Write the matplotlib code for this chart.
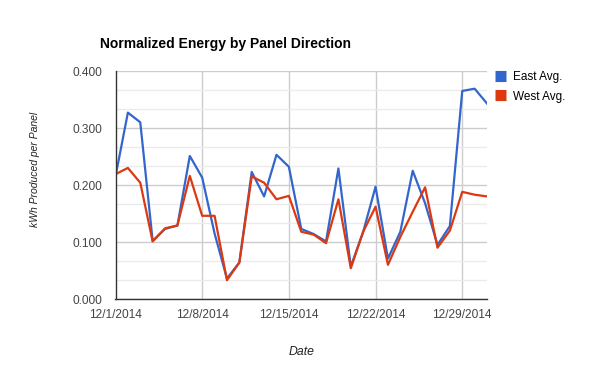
import numpy as np
import pandas as pd
import matplotlib
matplotlib.use("Agg")
import matplotlib.pyplot as plt
from matplotlib.ticker import MultipleLocator

plt.rcParams['font.family'] = ['Liberation Sans', 'DejaVu Sans']

dates = pd.date_range("2014-12-01", "2014-12-31", freq="D")
east = [0.215, 0.327, 0.310, 0.102, 0.123, 0.129, 0.251, 0.213, 0.115, 0.036,
        0.064, 0.223, 0.180, 0.253, 0.232, 0.123, 0.114, 0.101, 0.229, 0.057,
        0.118, 0.197, 0.071, 0.118, 0.225, 0.168, 0.095, 0.128, 0.365, 0.369,
        0.343]
west = [0.219, 0.230, 0.204, 0.101, 0.124, 0.129, 0.216, 0.146, 0.146, 0.033,
        0.064, 0.215, 0.204, 0.175, 0.181, 0.118, 0.113, 0.098, 0.175, 0.054,
        0.118, 0.162, 0.060, 0.109, 0.153, 0.196, 0.090, 0.120, 0.188, 0.183,
        0.180]
tick_dates = pd.to_datetime(["2014-12-01", "2014-12-08", "2014-12-15",
                             "2014-12-22", "2014-12-29"])
tick_labels = ["12/1/2014", "12/8/2014", "12/15/2014", "12/22/2014", "12/29/2014"]

fig = plt.figure(figsize=(6, 3.71), dpi=100)
ax = fig.add_axes([0.1925, 0.194, 0.6192, 0.6146])

# gridlines, google charts style
ax.yaxis.set_minor_locator(MultipleLocator(0.1 / 3))
ax.grid(which="major", axis="y", color="#cccccc", lw=1)
ax.grid(which="minor", axis="y", color="#ebebeb", lw=1)
ax.grid(which="major", axis="x", color="#cccccc", lw=1)
ax.set_axisbelow(True)

ax.plot(dates, east, color="#3366cc", lw=1.6, label="East Avg.")
ax.plot(dates, west, color="#dc3912", lw=1.6, label="West Avg.")

ax.set_xlim(dates[0], dates[-1])
ax.set_ylim(0, 0.4)
ax.set_yticks(np.arange(0, 0.41, 0.1))
ax.set_yticklabels(["%.3f" % v for v in np.arange(0, 0.41, 0.1)])
ax.set_xticks(tick_dates)
ax.set_xticklabels(tick_labels)
ax.tick_params(which="both", length=0, labelsize=8.6, labelcolor="#444444")
ax.tick_params(axis="x", pad=7)
ax.tick_params(axis="y", pad=9.5)

for s in ["top", "right"]:
    ax.spines[s].set_visible(False)
for s in ["left", "bottom"]:
    ax.spines[s].set_color("#333333")
    ax.spines[s].set_linewidth(1)

fig.text(302 / 600, 1 - 352 / 371, "Date", style="italic", fontsize=8.8,
         color="#222222", ha="center", va="center")
fig.text(35 / 600, 1 - 169 / 371, "kWh Produced per Panel", style="italic",
         fontsize=7.5, color="#222222", ha="center", va="center", rotation=90)

fig.text(100 / 600, 1 - 44 / 371, "Normalized Energy by Panel Direction",
         fontsize=10, fontweight="bold", va="center", ha="left")

leg = ax.legend(loc="upper left", bbox_to_anchor=(1.01, 1.02), frameon=False,
                fontsize=8.5, handlelength=0.9, handleheight=0.9,
                handletextpad=0.6, labelspacing=0.65, borderaxespad=0)
for h in leg.legend_handles:
    h.set_linewidth(8)
    h.set_solid_capstyle("butt")

fig.savefig("out.png", dpi=100)
